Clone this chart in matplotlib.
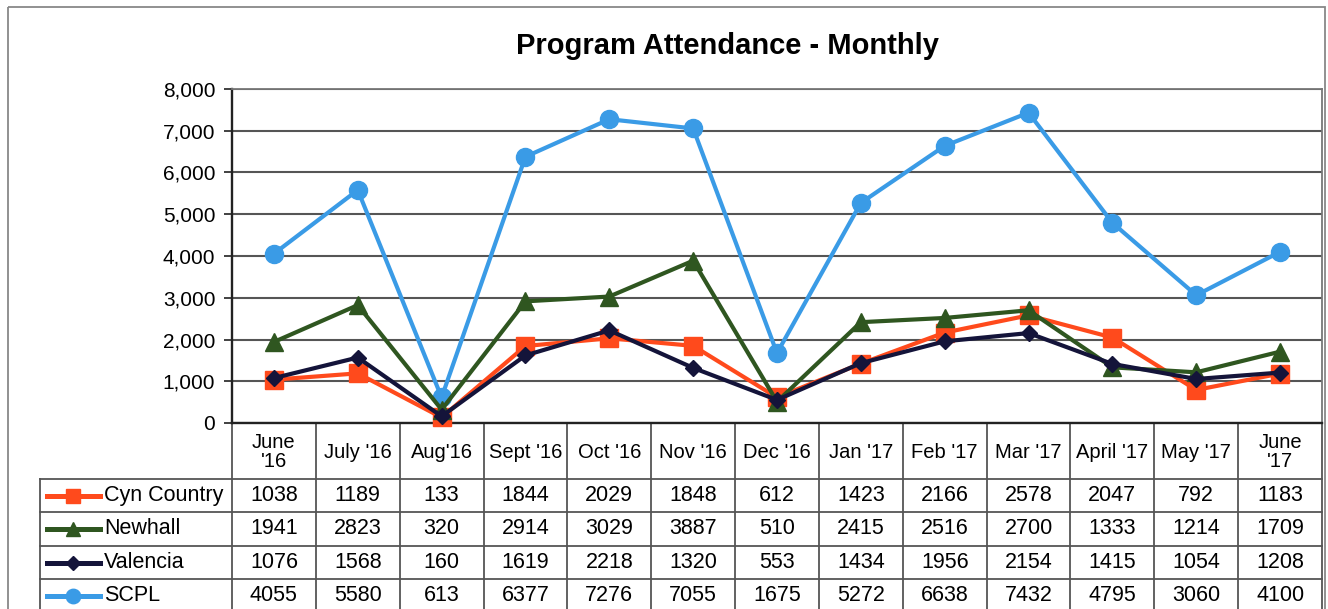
import numpy as np
import matplotlib
matplotlib.use("Agg")
import matplotlib.pyplot as plt
from matplotlib.patches import Rectangle
from matplotlib.lines import Line2D

plt.rcParams["font.family"] = ["Liberation Sans", "DejaVu Sans"]

months = ["June\n'16", "July '16", "Aug'16", "Sept '16", "Oct '16", "Nov '16", "Dec '16",
          "Jan '17", "Feb '17", "Mar '17", "April '17", "May '17", "June\n'17"]
cyn_country = [1038, 1189, 133, 1844, 2029, 1848, 612, 1423, 2166, 2578, 2047, 792, 1183]
newhall = [1941, 2823, 320, 2914, 3029, 3887, 510, 2415, 2516, 2700, 1333, 1214, 1709]
valencia = [1076, 1568, 160, 1619, 2218, 1320, 553, 1434, 1956, 2154, 1415, 1054, 1208]
scpl = [4055, 5580, 613, 6377, 7276, 7055, 1675, 5272, 6638, 7432, 4795, 3060, 4100]

# name, values, colour, marker, marker size (pt)
series = [
    ("Cyn Country", cyn_country, "#FF4A1C", "s", 12.5),
    ("Newhall", newhall, "#2F5620", "^", 13),
    ("Valencia", valencia, "#14143A", "D", 8.5),
    ("SCPL", scpl, "#3A9BE6", "o", 13),
]

W, H = 1328, 609
fig = plt.figure(figsize=(W / 100, H / 100), dpi=100)

# pixel-space overlay for frame + data table
ov = fig.add_axes([0, 0, 1, 1], zorder=0)
ov.set_xlim(0, W)
ov.set_ylim(H, 0)
ov.axis("off")

L, R, T, B = 232, 1322, 89, 423
ax = fig.add_axes([L / W, 1 - B / H, (R - L) / W, (B - T) / H], zorder=2)
ax.patch.set_alpha(0)

x = np.arange(len(months))
for name, vals, color, mk, ms in [series[3], series[0], series[1], series[2]]:
    ax.plot(x, vals, color=color, lw=3, marker=mk, ms=ms, mec=color, mfc=color,
            zorder=3, clip_on=False)

ax.set_xlim(-0.5, len(months) - 0.5)
ax.set_ylim(0, 8000)
ax.set_yticks(range(0, 8001, 1000))
ax.set_yticklabels([f"{v:,}" for v in range(0, 8001, 1000)], fontsize=15)
ax.set_xticks([])
ax.grid(axis="y", color="#555555", lw=1.5)
ax.set_axisbelow(True)
for s in ["top", "right"]:
    ax.spines[s].set_color("#777777")
    ax.spines[s].set_linewidth(1.3)
ax.spines["left"].set_color("#222222")
ax.spines["left"].set_linewidth(1.7)
ax.spines["bottom"].set_color("#222222")
ax.spines["bottom"].set_linewidth(1.7)
ax.tick_params(axis="y", length=6, width=1.3, color="#333333", pad=6)

fig.text(727 / W, 1 - 46 / H, "Program Attendance - Monthly", ha="center", va="center",
         fontsize=21, fontweight="bold")

# outer chart frame
ov.add_patch(Rectangle((8, 7), 1317, 620, fill=False, ec="#888888", lw=1.3))

# data table
cw = (R - L) / len(months)
rows = [479, 512, 546, 579, 612]
lc = "#555555"
for k in range(len(months) + 1):
    ov.plot([L + k * cw, L + k * cw], [B, H + 5], color=lc, lw=1.3)
for yy in rows[:-1]:
    ov.plot([40, R], [yy, yy], color=lc, lw=1.3)
ov.plot([40, 40], [rows[0], H + 5], color=lc, lw=1.3)

for i, m in enumerate(months):
    ov.text(L + (i + 0.5) * cw, (B + rows[0]) / 2 + 1, m, ha="center", va="center",
            fontsize=14.5, linespacing=1.05)

for r, (name, vals, color, mk, ms) in enumerate(series):
    yc = (rows[r] + rows[r + 1]) / 2
    ov.add_line(Line2D([47, 100], [yc, yc], color=color, lw=3.6))
    ov.plot([73], [yc], marker=mk, ms=ms * 0.8, color=color)
    ov.text(104, yc, name, ha="left", va="center", fontsize=15.5)
    for i, v in enumerate(vals):
        ov.text(L + (i + 0.5) * cw, yc, str(v), ha="center", va="center", fontsize=15.5)

fig.savefig("out.png", dpi=100)
